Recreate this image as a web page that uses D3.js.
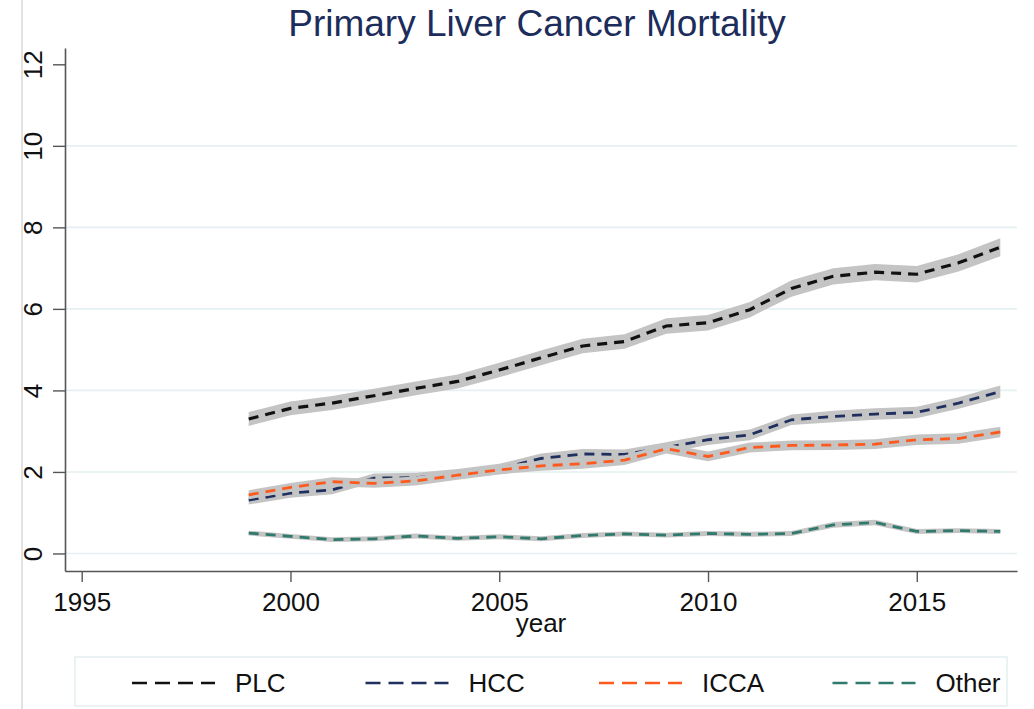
<!DOCTYPE html>
<html>
<head>
<meta charset="utf-8">
<script src="https://cdn.jsdelivr.net/npm/d3@7"></script>
<style>
  body { margin: 0; background: #fff; }
  svg { display: block; font-family: "Liberation Sans", Arial, sans-serif; }
</style>
</head>
<body>
<div id="chart"></div>
<script>
const years = [1999, 2000, 2001, 2002, 2003, 2004, 2005, 2006, 2007, 2008, 2009, 2010, 2011, 2012, 2013, 2014, 2015, 2016, 2017];

const plc = [3.30, 3.56, 3.69, 3.87, 4.05, 4.22, 4.50, 4.80, 5.09, 5.20, 5.58, 5.66, 5.98, 6.50, 6.80, 6.90, 6.85, 7.13, 7.51];
const hcc = [1.31, 1.48, 1.56, 1.85, 1.86, 1.95, 2.08, 2.33, 2.44, 2.43, 2.60, 2.79, 2.91, 3.28, 3.36, 3.42, 3.46, 3.69, 3.97];
const icca = [1.44, 1.62, 1.76, 1.72, 1.78, 1.92, 2.05, 2.15, 2.20, 2.29, 2.57, 2.38, 2.60, 2.65, 2.66, 2.68, 2.79, 2.82, 2.98];
const other = [0.50, 0.42, 0.34, 0.36, 0.43, 0.37, 0.41, 0.36, 0.44, 0.48, 0.45, 0.49, 0.47, 0.49, 0.70, 0.76, 0.54, 0.56, 0.54];

// half width of the 95% band around each line
const plcCI = [0.17, 0.17, 0.17, 0.17, 0.17, 0.17, 0.18, 0.18, 0.18, 0.18, 0.19, 0.19, 0.19, 0.20, 0.20, 0.20, 0.20, 0.21, 0.22];
const hccCI = [0.11, 0.11, 0.11, 0.11, 0.12, 0.12, 0.12, 0.12, 0.12, 0.12, 0.13, 0.13, 0.13, 0.13, 0.14, 0.14, 0.14, 0.14, 0.15];
const iccaCI = [0.11, 0.11, 0.11, 0.11, 0.11, 0.11, 0.11, 0.12, 0.12, 0.12, 0.12, 0.12, 0.12, 0.12, 0.12, 0.12, 0.13, 0.13, 0.13];
const otherCI = [0.06, 0.06, 0.06, 0.06, 0.06, 0.06, 0.06, 0.06, 0.06, 0.06, 0.06, 0.06, 0.06, 0.06, 0.07, 0.07, 0.06, 0.06, 0.06];

const seriesNames = ['PLC', 'HCC', 'ICCA', 'Other'];
const seriesColors = ['#111111', '#1f2f5e', '#ff5a1e', '#2f7a6c'];

const xTicks = [1995, 2000, 2005, 2010, 2015];
const yTicks = [0, 2, 4, 6, 8, 10, 12];
const gridTicks = [0, 2, 4, 6, 8, 10];

const series = [
    { name: seriesNames[0], values: plc, ci: plcCI, color: seriesColors[0], width: 3.2 },
    { name: seriesNames[1], values: hcc, ci: hccCI, color: seriesColors[1], width: 2.8 },
    { name: seriesNames[2], values: icca, ci: iccaCI, color: seriesColors[2], width: 2.8 },
    { name: seriesNames[3], values: other, ci: otherCI, color: seriesColors[3], width: 2.8 }
];

const width = 1034;
const height = 709;
const plot = { left: 65, right: 1017, top: 48, bottom: 571 };

const svg = d3.select('#chart')
    .append('svg')
    .attr('width', width)
    .attr('height', height);

const x = d3.scaleLinear().domain([1994.6, 2017.4]).range([plot.left, plot.right]);
const y = d3.scaleLinear().domain([-0.43, 12.4]).range([plot.bottom, plot.top]);

// outer border on the left
svg.append('line')
    .attr('x1', 22).attr('x2', 22)
    .attr('y1', 0).attr('y2', height)
    .attr('stroke', '#cfcfcf')
    .attr('stroke-width', 1.2);

svg.append('text')
    .attr('x', 537)
    .attr('y', 36)
    .attr('text-anchor', 'middle')
    .style('font-size', '37px')
    .style('fill', '#1c2c5b')
    .text('Primary Liver Cancer Mortality');

// gridlines
svg.append('g')
    .selectAll('line')
    .data(gridTicks)
    .enter()
    .append('line')
    .attr('x1', plot.left).attr('x2', plot.right)
    .attr('y1', d => y(d)).attr('y2', d => y(d))
    .attr('stroke', '#e6eff2')
    .attr('stroke-width', 1.6);

const area = d3.area()
    .x((d, i) => x(years[i]))
    .y0(d => y(d[0]))
    .y1(d => y(d[1]));

const line = d3.line()
    .x((d, i) => x(years[i]))
    .y(d => y(d));

series.forEach(s => {
    const band = s.values.map((v, i) => [v - s.ci[i], v + s.ci[i]]);
    svg.append('path')
        .attr('d', area(band))
        .attr('fill', '#c4c4c4');
    svg.append('path')
        .attr('d', line(s.values))
        .attr('fill', 'none')
        .attr('stroke', s.color)
        .attr('stroke-width', s.width)
        .attr('stroke-dasharray', '10,7');
});

// axes
const xAxis = svg.append('g')
    .attr('transform', `translate(0, ${plot.bottom})`)
    .call(d3.axisBottom(x).tickValues(xTicks).tickFormat(d3.format('d')).tickSize(11).tickSizeOuter(0).tickPadding(7));

const yAxis = svg.append('g')
    .attr('transform', `translate(${plot.left}, 0)`)
    .call(d3.axisLeft(y).tickValues(yTicks).tickSize(12).tickSizeOuter(0).tickFormat(d3.format('d')));

[xAxis, yAxis].forEach(a => {
    a.select('.domain').attr('stroke', '#555').attr('stroke-width', 1.6);
    a.selectAll('.tick line').attr('stroke', '#555').attr('stroke-width', 1.4);
    a.selectAll('text').style('font-size', '26px').style('fill', '#111').attr('font-family', null);
});

xAxis.selectAll('.tick text').attr('dy', null).attr('y', 40);

yAxis.selectAll('.tick text')
    .attr('x', null).attr('dy', null)
    .attr('text-anchor', 'middle')
    .attr('transform', 'translate(-23, 0) rotate(-90)')
    .attr('y', 0);

svg.append('text')
    .attr('x', (plot.left + plot.right) / 2)
    .attr('y', 632)
    .attr('text-anchor', 'middle')
    .style('font-size', '26px')
    .style('fill', '#111')
    .text('year');

// legend
const legend = svg.append('g');
legend.append('rect')
    .attr('x', 75).attr('y', 657)
    .attr('width', 932).attr('height', 49)
    .attr('fill', '#fff')
    .attr('stroke', '#e3eef0')
    .attr('stroke-width', 1.5);

series.forEach((s, i) => {
    const lx = 132 + i * 233.5;
    legend.append('line')
        .attr('x1', lx).attr('x2', lx + 83)
        .attr('y1', 683).attr('y2', 683)
        .attr('stroke', s.color)
        .attr('stroke-width', 2.6)
        .attr('stroke-dasharray', '15,8');
    legend.append('text')
        .attr('x', lx + 103)
        .attr('y', 692)
        .style('font-size', '26px')
        .style('fill', '#111')
        .text(s.name);
});
</script>
</body>
</html>
